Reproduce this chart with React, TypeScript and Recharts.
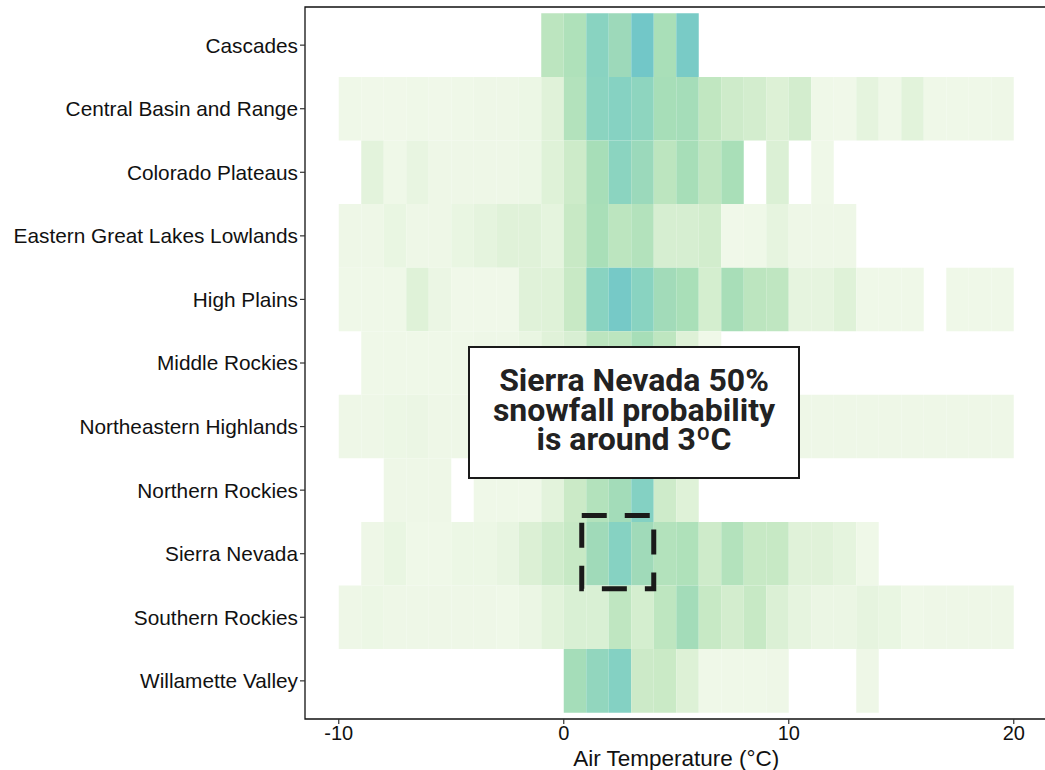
import React from "react";
import { ComposedChart, XAxis, YAxis, ReferenceArea, Scatter } from "recharts";

// ---- data ----
const regions = [
  "Cascades",
  "Central Basin and Range",
  "Colorado Plateaus",
  "Eastern Great Lakes Lowlands",
  "High Plains",
  "Middle Rockies",
  "Northeastern Highlands",
  "Northern Rockies",
  "Sierra Nevada",
  "Southern Rockies",
  "Willamette Valley",
];
const tempTicks = [-10, 0, 10, 20];

// first temperature bin (°C, 1° bins) of each region row
const rowStarts = [-1, -10, -9, -10, -10, -9, -10, -8, -9, -10, 0];

// relative snowfall intensity per 1°C bin, from the start temperature; null = no data
const cascades = [0.45, 0.52, 0.8, 0.67, 0.95, 0.56, 0.9];
const centralBasinRange = [
  0.05, 0.04, 0.04, 0.05, 0.04, 0.05, 0.06, 0.06, 0.07, 0.15,
  0.5, 0.78, 0.82, 0.76, 0.58, 0.6, 0.42, 0.32, 0.27, 0.18,
  0.27, 0.05, 0.04, 0.12, 0.05, 0.14, 0.05, 0.05, 0.05, 0.06,
];
const coloradoPlateaus = [
  0.13, 0.05, 0.1, 0.06, 0.06, 0.06, 0.06, 0.07, 0.16,
  0.33, 0.58, 0.78, 0.68, 0.45, 0.58, 0.43, 0.56,
  null, 0.2, null, 0.05,
];
const easternGreatLakes = [
  0.06, 0.06, 0.09, 0.06, 0.06, 0.09, 0.12, 0.15, 0.15, 0.12,
  0.37, 0.56, 0.45, 0.5, 0.24, 0.24, 0.28,
  0.04, 0.05, 0.11, 0.06, 0.06, 0.06,
];
const highPlains = [
  0.05, 0.05, 0.05, 0.16, 0.08, 0.04, 0.04, 0.04, 0.15, 0.16,
  0.37, 0.8, 0.92, 0.8, 0.63, 0.56, 0.26, 0.57, 0.45, 0.43,
  0.11, 0.11, 0.16, 0.05, 0.05, 0.05, null, 0.05, 0.05, 0.05,
];
const middleRockies = [
  0.05, 0.05, 0.05, 0.05, 0.05, 0.06, 0.06, 0.09, 0.15,
  0.22, 0.45, 0.45, 0.58, 0.44, 0.17, 0.05,
];
const northeasternHighlands = [
  0.06, 0.06, 0.07, 0.08, 0.06, 0.06, 0.07, 0.08, 0.1, 0.15,
  0.3, 0.5, 0.6, 0.55, 0.4, 0.3, 0.2, 0.15, 0.1, 0.08,
  0.06, 0.06, 0.06, 0.06, 0.06, 0.06, 0.06, 0.06, 0.06, 0.06,
];
const northernRockies = [
  0.06, 0.06, 0.06, null, 0.05, 0.05, 0.05, 0.13,
  0.35, 0.5, 0.62, 0.83, 0.32, 0.16,
];
const sierraNevada = [
  0.06, 0.09, 0.05, 0.05, 0.07, 0.07, 0.1, 0.19, 0.3,
  0.38, 0.65, 0.82, 0.65, 0.5, 0.52, 0.32, 0.5, 0.38, 0.38,
  0.15, 0.15, 0.12, 0.05,
];
const southernRockies = [
  0.06, 0.07, 0.06, 0.06, 0.06, 0.06, 0.06, 0.05, 0.08, 0.14,
  0.21, 0.21, 0.43, 0.26, 0.44, 0.62, 0.38, 0.27, 0.38, 0.2,
  0.11, 0.08, 0.08, 0.11, 0.09, 0.05, 0.06, 0.06, 0.06, 0.06,
];
const willametteValley = [
  0.6, 0.73, 0.83, 0.34, 0.36, 0.18, 0.05, 0.05, 0.05, 0.06,
  null, null, null, 0.06,
];

const rowValues = [
  cascades,
  centralBasinRange,
  coloradoPlateaus,
  easternGreatLakes,
  highPlains,
  middleRockies,
  northeasternHighlands,
  northernRockies,
  sierraNevada,
  southernRockies,
  willametteValley,
];

// annotation highlight (data coordinates)
const highlight = { x1: 0.8, x2: 4.0, y1: 8.4, y2: 9.55 };
const annotationLines = ["Sierra Nevada 50%", "snowfall probability", "is around 3\u00baC"];

// ---- colour scale ----
const colorStops: [number, string][] = [
  [0.0, "#f2f9eb"],
  [0.05, "#eff8e8"],
  [0.1, "#e8f5e1"],
  [0.15, "#e0f2d9"],
  [0.25, "#d5eed0"],
  [0.35, "#cbeac7"],
  [0.45, "#bce5bf"],
  [0.55, "#aadfb8"],
  [0.65, "#a0dab9"],
  [0.75, "#8fd5bf"],
  [0.82, "#86d2c2"],
  [0.92, "#76c9c7"],
  [1.0, "#6cc4ca"],
];
const hex = (h: string) => [1, 3, 5].map((i) => parseInt(h.slice(i, i + 2), 16));
function colorFor(v: number) {
  for (let i = 1; i < colorStops.length; i++) {
    const [v1, c1] = colorStops[i];
    const [v0, c0] = colorStops[i - 1];
    if (v <= v1) {
      const t = (v - v0) / (v1 - v0);
      const a = hex(c0);
      const b = hex(c1);
      const m = a.map((x, k) => Math.round(x + (b[k] - x) * t));
      return `rgb(${m[0]},${m[1]},${m[2]})`;
    }
  }
  return colorStops[colorStops.length - 1][1];
}

type Cell = { t: number; row: number; v: number };
const cells: Cell[] = [];
rowValues.forEach((vals, r) => {
  vals.forEach((v, i) => {
    if (v !== null && v !== undefined) cells.push({ t: rowStarts[r] + i, row: r + 1, v: v as number });
  });
});
const centers = cells.map((c) => ({ x: c.t + 0.5, y: c.row }));

const FONT = "'Liberation Sans', Arial, Helvetica, sans-serif";

export default function App() {
  return (
    <div style={{ position: "fixed", left: 0, top: 0, width: 1045, height: 770, overflow: "hidden", background: "#fff" }}>
      <ComposedChart
        width={1060}
        height={770}
        margin={{ top: 7, right: 12.5, bottom: 0, left: 0 }}
        style={{ fontFamily: FONT }}
      >
        <XAxis
          type="number"
          dataKey="x"
          domain={[-11.5, 21.5]}
          ticks={tempTicks}
          allowDataOverflow
          height={51}
          axisLine={false}
          tickLine={{ stroke: "#333", strokeWidth: 1.2 }}
          tickSize={5}
          tickMargin={2}
          tick={{ fill: "#111", fontSize: 20, fontFamily: FONT }}
          label={{
            value: "Air Temperature (\u00b0C)",
            position: "insideBottom",
            offset: 4,
            fill: "#111",
            fontSize: 22.5,
            fontFamily: FONT,
          }}
        />
        <YAxis
          type="number"
          dataKey="y"
          domain={[0.4, 11.6]}
          reversed
          ticks={regions.map((_, i) => i + 1)}
          interval={0}
          allowDataOverflow
          width={305}
          axisLine={false}
          tickLine={{ stroke: "#333", strokeWidth: 1.2 }}
          tickSize={5}
          tickMargin={2}
          tickFormatter={(v: number) => regions[v - 1] ?? ""}
          tick={{ fill: "#111", fontSize: 20.8, fontFamily: FONT }}
        />
        {cells.map((c, i) => (
          <ReferenceArea
            key={i}
            x1={c.t}
            x2={c.t + 1}
            y1={c.row - 0.5}
            y2={c.row + 0.5}
            fill={colorFor(c.v)}
            fillOpacity={1}
            stroke="none"
            ifOverflow="hidden"
          />
        ))}
        <Scatter data={centers} fill="none" shape={() => null} isAnimationActive={false} />
        <ReferenceArea
          x1={highlight.x1}
          x2={highlight.x2}
          y1={highlight.y1}
          y2={highlight.y2}
          fill="none"
          fillOpacity={0}
          stroke="#1a1a1a"
          strokeWidth={5}
          strokeDasharray="25 18"
        />
        <ReferenceArea
          x1={-11.5}
          x2={21.5}
          y1={0.4}
          y2={11.6}
          fill="none"
          fillOpacity={0}
          stroke="#111"
          strokeWidth={1.3}
        />
      </ComposedChart>
      <div
        style={{
          position: "absolute",
          left: 468,
          top: 346,
          width: 332,
          height: 133,
          boxSizing: "border-box",
          border: "2px solid #1a1a1a",
          background: "#fff",
          fontFamily: "Roboto, 'Noto Sans', sans-serif",
          fontWeight: 700,
          fontSize: 32,
          color: "#222",
          textAlign: "center",
          paddingTop: 18,
        }}
      >
        {annotationLines.map((l, i) => (
          <div key={i} style={{ whiteSpace: "nowrap", height: 29.5, lineHeight: "29.5px" }}>
            {l}
          </div>
        ))}
      </div>
    </div>
  );
}
